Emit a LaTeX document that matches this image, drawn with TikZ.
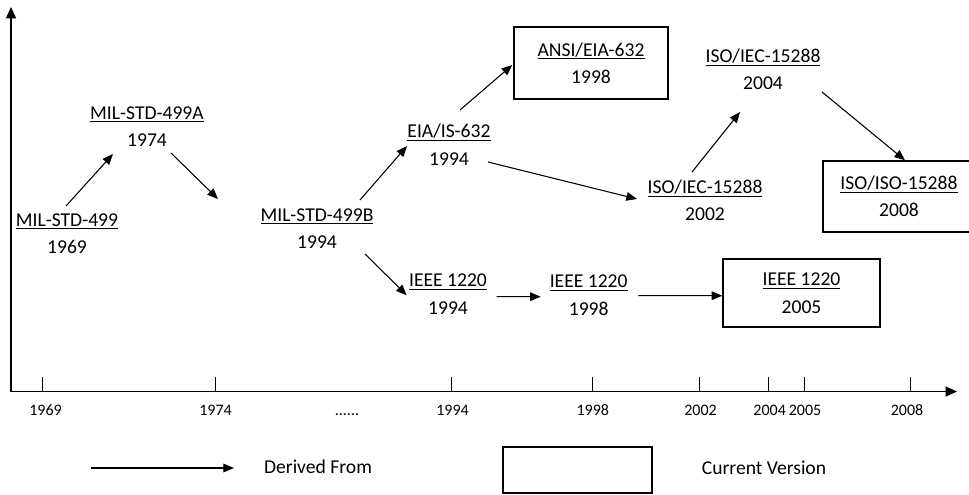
\documentclass[tikz,border=0pt]{standalone}
\usepackage{fontspec}
\setmainfont{Carlito}
\usetikzlibrary{arrows.meta,calc}
\newcommand\ulin[1]{\setbox0\hbox{#1}\rlap{\rule[-2.2pt]{\wd0}{0.7pt}}\box0}
\begin{document}
\begin{tikzpicture}[x=0.75pt,y=-0.75pt,
  lbl/.style={align=center,inner sep=0pt,font=\fontsize{14.7}{20.6}\selectfont},
  boxed/.style={lbl,draw,line width=1.1pt},
  arr/.style={line width=0.8pt,-{Triangle[length=8pt,width=6.5pt]}},
  axisline/.style={line width=1.1pt,{Triangle[length=8.5pt,width=7.5pt]}-{Triangle[length=8.5pt,width=7.5pt]}},
  tickline/.style={line width=0.6pt},
  yr/.style={font=\fontsize{12}{14}\selectfont,inner sep=0pt,text height=7.6pt,text depth=0pt}]
\useasboundingbox (0,0) rectangle (969,494);

% axes
\coordinate (org) at (11,391.5);
\coordinate (ytip) at (11,7);
\coordinate (xtip) at (957,391.5);
\draw[axisline] (ytip) -- (org) -- (xtip);

\foreach \x/\lx/\t in {42/45.5/1969, 215/215.5/1974, 451/452.5/1994, 592/592.8/1998, 699/700.5/2002, 768/769.7/2004, 804/805/2005, 910/907/2008} {
  \draw[tickline] (\x,376.5) -- (\x,391.5);
  \node[yr] (y\t) at (\lx,410) {\t};
}
\node[yr] (ydots) at (347,410) {......};

% labels
\node[lbl] (n499)  at (67,233.5)  {\ulin{MIL-STD-499}\\1969};
\node[lbl] (n499A) at (147,126.5) {\ulin{MIL-STD-499A}\\1974};
\node[lbl] (n499B) at (317,228.5) {\ulin{MIL-STD-499B}\\1994};
\node[lbl] (eia)   at (449,144.5) {\ulin{EIA/IS-632}\\1994};
\node[boxed,minimum width=115.5pt,minimum height=54pt] (ansi) at (591,63) {\ulin{ANSI/EIA-632}\\1998};
\node[lbl] (iso02) at (705,200.5) {\ulin{ISO/IEC-15288}\\2002};
\node[lbl] (iso04) at (763,69.5)  {\ulin{ISO/IEC-15288}\\2004};
\node[boxed,minimum width=114pt,minimum height=53.25pt] (isoiso) at (899,196.5) {\ulin{ISO/ISO-15288}\\2008};
\node[lbl] (ieee94) at (448,294) {\ulin{IEEE 1220}\\1994};
\node[lbl] (ieee98) at (588.7,295.3) {\ulin{IEEE 1220}\\1998};
\node[boxed,minimum width=117.75pt,minimum height=51pt] (ieee05) at (801.5,293) {\ulin{IEEE 1220}\\2005};

% connectors
\draw[arr] ($(n499)+(-1,-27.5)$) -- ($(n499A)+(-34,27.5)$);
\draw[arr] ($(n499A)+(24,26.5)$) -- ($(n499B)+(-99,-29.5)$);
\draw[arr] ($(n499B)+(43,-28.5)$) -- ($(eia)+(-42,1.5)$);
\draw[arr] ($(eia)+(11,-34.5)$) -- ($(ansi.west)+(-1,2)$);
\draw[arr] ($(eia)+(39,17.5)$) -- ($(iso02)+(-68,-1.5)$);
\draw[arr] ($(n499B)+(48,25.5)$) -- ($(ieee94)+(-41.3,1.2)$);
\draw[arr] ($(ieee94)+(48.7,2.7)$) -- ($(ieee98)+(-48,1.4)$);
\draw[arr] ($(ieee98)+(49.6,0.4)$) -- ($(ieee05.west)+(0,2.7)$);
\draw[arr] ($(iso02)+(-13,-28.5)$) -- ($(iso04)+(-23,42.5)$);
\draw[arr] ($(iso04)+(59,22.5)$) -- ($(isoiso.north)+(6,0)$);

% legend
\coordinate (lgA) at (91,468);
\coordinate (lgB) at (234,468);
\draw[arr] (lgA) -- (lgB);
\node[lbl] (lgd) at (318,467) {Derived From};
\node[draw,line width=1pt,minimum width=111.75pt,minimum height=34.5pt,inner sep=0pt] (lgbox) at (577.5,470) {};
\node[lbl] (lgc) at (764,468) {Current Version};
\end{tikzpicture}
\end{document}
